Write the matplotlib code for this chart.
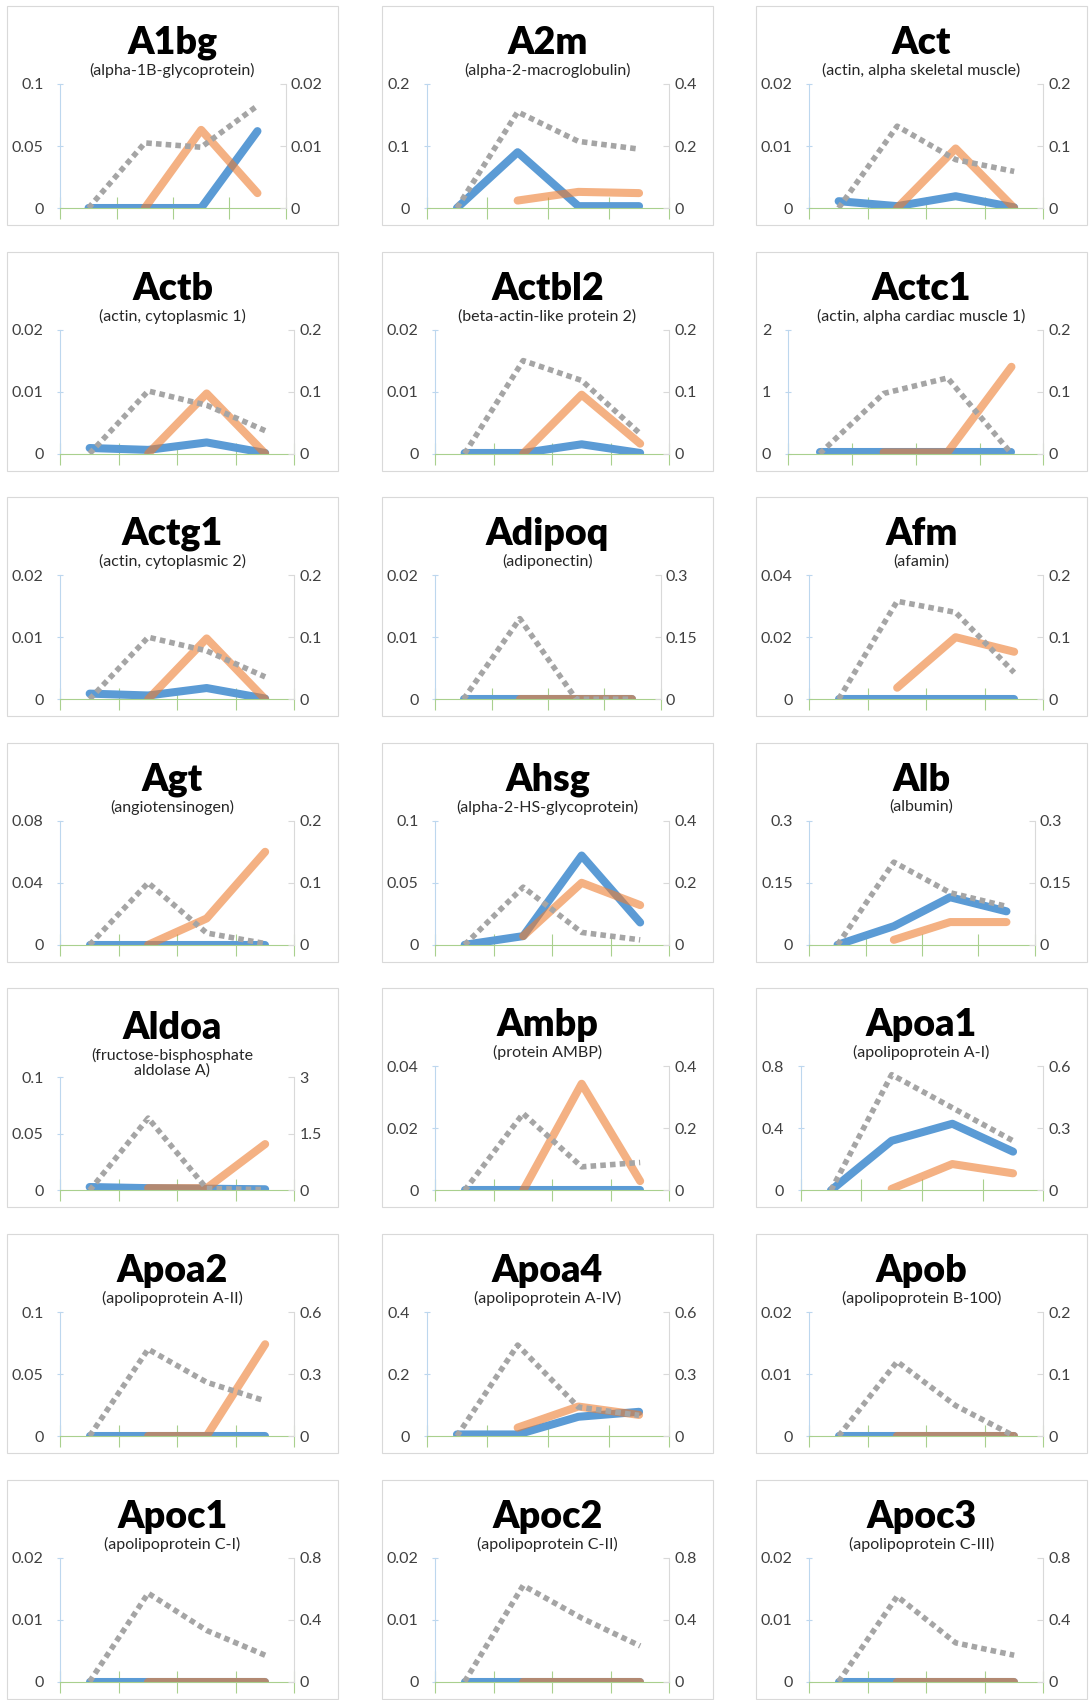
import matplotlib.pyplot as plt
import numpy as np
from matplotlib.patches import Rectangle

plt.rcParams['font.family'] = ['Lato', 'DejaVu Sans']

nan = np.nan

GENES = ["A1bg", "A2m", "Act", "Actb", "Actbl2", "Actc1", "Actg1", "Adipoq", "Afm",
         "Agt", "Ahsg", "Alb", "Aldoa", "Ambp", "Apoa1", "Apoa2", "Apoa4", "Apob",
         "Apoc1", "Apoc2", "Apoc3"]

DESCRIPTIONS = [
    "(alpha-1B-glycoprotein)", "(alpha-2-macroglobulin)", "(actin, alpha skeletal muscle)",
    "(actin, cytoplasmic 1)", "(beta-actin-like protein 2)", "(actin, alpha cardiac muscle 1)",
    "(actin, cytoplasmic 2)", "(adiponectin)", "(afamin)",
    "(angiotensinogen)", "(alpha-2-HS-glycoprotein)", "(albumin)",
    "(fructose-bisphosphate\naldolase A)", "(protein AMBP)", "(apolipoprotein A-I)",
    "(apolipoprotein A-II)", "(apolipoprotein A-IV)", "(apolipoprotein B-100)",
    "(apolipoprotein C-I)", "(apolipoprotein C-II)", "(apolipoprotein C-III)",
]

# axis maxima (left = blue/orange, right = grey dotted)
LEFT_MAX = [0.1, 0.2, 0.02, 0.02, 0.02, 2, 0.02, 0.02, 0.04,
            0.08, 0.1, 0.3, 0.1, 0.04, 0.8, 0.1, 0.4, 0.02,
            0.02, 0.02, 0.02]
RIGHT_MAX = [0.02, 0.4, 0.2, 0.2, 0.2, 0.2, 0.2, 0.3, 0.2,
             0.2, 0.4, 0.3, 3, 0.4, 0.6, 0.6, 0.6, 0.2,
             0.8, 0.8, 0.8]

BLUE = [
    [0, 0, 0, 0.062], [0, 0.09, 0.003, 0.003], [0.0011, 0.0003, 0.0019, 0.0001],
    [0.0009, 0.0006, 0.0018, 0.0001], [0.0001, 0.0001, 0.0015, 0.0001], [0.02, 0.02, 0.02, 0.02],
    [0.0009, 0.0006, 0.0018, 0.0001], [0, 0, 0, 0], [0, 0, 0, 0],
    [0, 0, 0, 0], [0, 0.007, 0.072, 0.018], [0, 0.045, 0.115, 0.081],
    [0.003, 0.002, 0.0015, 0.001], [0, 0, 0, 0], [0, 0.32, 0.43, 0.25],
    [0, 0, 0, 0], [0.005, 0.005, 0.062, 0.078], [0, 0, 0, 0],
    [0, 0, 0, 0], [0, 0, 0, 0], [0, 0, 0, 0],
]

ORANGE = [
    [nan, 0, 0.063, 0.012], [nan, 0.012, 0.026, 0.024], [nan, 0, 0.0096, 0],
    [nan, 0, 0.0097, 0], [nan, 0, 0.0095, 0.0016], [nan, 0.02, 0.02, 1.4],
    [nan, 0, 0.0098, 0], [nan, 0, 0, 0], [nan, 0.0037, 0.02, 0.0153],
    [nan, 0, 0.017, 0.06], [nan, 0.007, 0.05, 0.032], [nan, 0.012, 0.055, 0.055],
    [nan, 0.002, 0.002, 0.041], [nan, 0, 0.0344, 0.003], [nan, 0.01, 0.17, 0.11],
    [nan, 0, 0, 0.074], [nan, 0.027, 0.095, 0.068], [nan, 0, 0, 0],
    [nan, 0, 0, 0], [nan, 0, 0, 0], [nan, 0, 0, 0],
]

GRAY = [
    [0, 0.0105, 0.0098, 0.0165], [0, 0.31, 0.215, 0.19], [0, 0.132, 0.078, 0.059],
    [0, 0.101, 0.078, 0.037], [0, 0.15, 0.118, 0.032], [0, 0.097, 0.122, 0],
    [0, 0.1, 0.078, 0.036], [0, 0.195, 0, 0], [0, 0.158, 0.14, 0.043],
    [0, 0.1, 0.019, 0.002], [0, 0.186, 0.04, 0.016], [0, 0.2, 0.126, 0.093],
    [0, 1.92, 0.05, 0.02], [0, 0.248, 0.076, 0.09], [0, 0.56, 0.4, 0.24],
    [0, 0.42, 0.26, 0.17], [0, 0.44, 0.14, 0.1], [0, 0.12, 0.049, 0],
    [0, 0.57, 0.33, 0.17], [0, 0.62, 0.41, 0.23], [0, 0.55, 0.25, 0.17],
]

W, H = 1090, 1700
BOX_X = [7, 382, 756]
BOX_Y0 = 6
ROW_STEP = 245.6
BOX_W, BOX_H = 331, 219

BLUE_C = "#5B9BD5"
ORANGE_C = "#ED7D31"
GRAY_C = "#A5A5A5"
GREEN_C = "#A9D08E"
TEXT_C = "#404040"


def fmt(v):
    return f"{round(v, 6):g}"


def label_width(vmax):
    # rough pixel width of the widest tick label at 11.5pt
    labels = [fmt(v) for v in (0, vmax / 2, vmax)]
    return max(8.8 * sum(ch.isdigit() for ch in s) + 4 * s.count(".") for s in labels)


fig = plt.figure(figsize=(W / 100, H / 100), dpi=100)
x = np.arange(4)

for i, gene in enumerate(GENES):
    r, c = divmod(i, 3)
    bx = BOX_X[c]
    by = BOX_Y0 + r * ROW_STEP
    two_line = "\n" in DESCRIPTIONS[i]

    fig.add_artist(Rectangle((bx / W, 1 - (by + BOX_H) / H), BOX_W / W, BOX_H / H,
                             transform=fig.transFigure, fill=False,
                             edgecolor="#D9D9D9", lw=0.8))

    shift = 3 if two_line else 0
    fig.text((bx + BOX_W / 2) / W, 1 - (by + 37 + shift) / H, gene,
             ha="center", va="center", fontsize=27, fontweight="heavy", color="black")
    fig.text((bx + BOX_W / 2) / W, 1 - (by + 57 + shift) / H, DESCRIPTIONS[i],
             ha="center", va="top", fontsize=11.5, color="#262626", linespacing=1.0)

    top = by + (89 if two_line else 78)
    zero = by + 202
    left = bx + 6 + label_width(LEFT_MAX[i]) + 17
    right = bx + BOX_W - 17 - label_width(RIGHT_MAX[i]) - 5

    ax = fig.add_axes([left / W, 1 - zero / H, (right - left) / W, (zero - top) / H])
    ax.set_facecolor("none")
    ax.plot(x, BLUE[i], color=BLUE_C, lw=5.8, solid_capstyle="round",
            solid_joinstyle="round", zorder=2)
    ax.plot(x, ORANGE[i], color=ORANGE_C, alpha=0.6, lw=5.8, solid_capstyle="round",
            solid_joinstyle="round", zorder=2)
    ax.set_xlim(-0.5, 3.5)
    ax.set_ylim(0, LEFT_MAX[i])
    ax.set_xticks([-0.5, 0.5, 1.5, 2.5, 3.5])
    ax.tick_params(axis="x", direction="inout", length=16.5, width=0.8,
                   color=GREEN_C, labelbottom=False)
    ax.spines["bottom"].set_color(GREEN_C)
    ax.spines["bottom"].set_linewidth(0.8)
    ax.spines["top"].set_visible(False)
    ax.spines["right"].set_visible(False)
    ax.spines["left"].set_color("#BDD7EE")
    ax.spines["left"].set_linewidth(0.8)
    lt = [0, LEFT_MAX[i] / 2, LEFT_MAX[i]]
    ax.set_yticks(lt)
    ax.set_yticklabels([fmt(v) for v in lt])
    ax.tick_params(axis="y", direction="inout", length=5, width=0.8, color="#BDD7EE",
                   pad=9.5, labelsize=11.5, labelcolor=TEXT_C)

    ax2 = ax.twinx()
    ax2.plot(x, GRAY[i], color=GRAY_C, lw=4, linestyle=(0, (1, 0.75)),
             dash_capstyle="butt")
    ax2.set_ylim(0, RIGHT_MAX[i])
    for side in ("left", "top", "bottom"):
        ax2.spines[side].set_visible(False)
    ax2.spines["right"].set_color("#D9D9D9")
    ax2.spines["right"].set_linewidth(0.8)
    rt = [0, RIGHT_MAX[i] / 2, RIGHT_MAX[i]]
    ax2.set_yticks(rt)
    ax2.set_yticklabels([fmt(v) for v in rt])
    ax2.tick_params(axis="y", direction="in", length=4, width=0.8, color="#D9D9D9",
                    pad=3.5, labelsize=11.5, labelcolor=TEXT_C)

fig.savefig("out.png", dpi=100)
